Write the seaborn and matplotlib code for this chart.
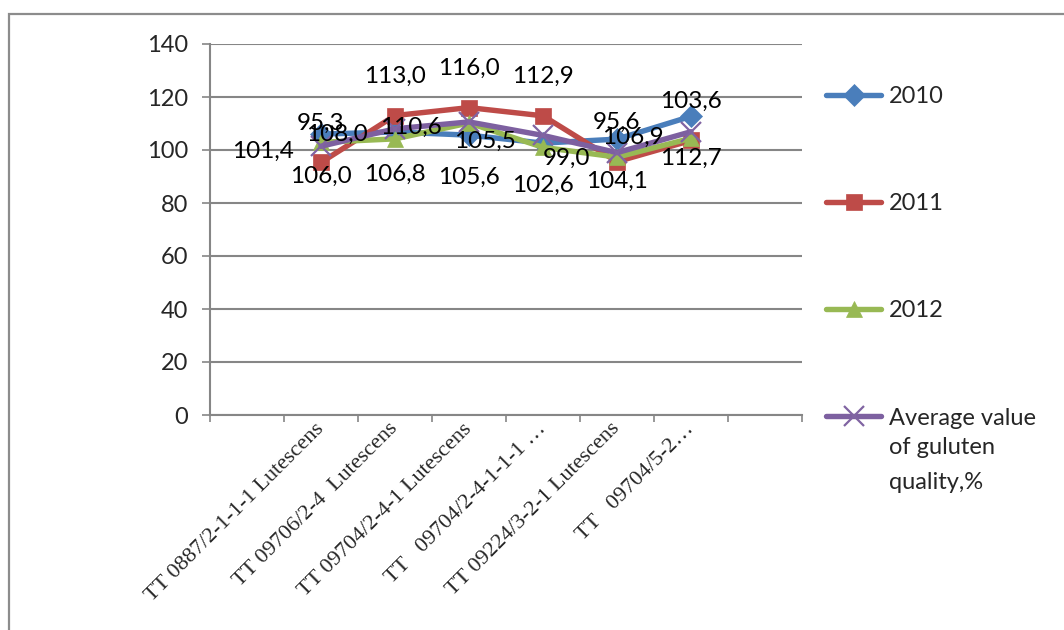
import matplotlib
matplotlib.use("Agg")
import matplotlib.pyplot as plt
from matplotlib.patches import Rectangle
import seaborn as sns

# Breeding lines and gluten-quality values per year (%)
varieties = [
    "TT 0887/2-1-1-1 Lutescens",
    "TT 09706/2-4  Lutescens",
    "TT 09704/2-4-1 Lutescens",
    "TT   09704/2-4-1-1-1 \u2026",
    "TT 09224/3-2-1 Lutescens",
    "TT   09704/5-2\u2026",
]
y2010 = [106.0, 106.8, 105.6, 102.6, 104.1, 112.7]
y2011 = [95.3, 113.0, 116.0, 112.9, 95.6, 103.6]
y2012 = [102.9, 104.2, 110.2, 101.0, 97.3, 104.4]
average = [101.4, 108.0, 110.6, 105.5, 99.0, 106.9]
series_names = ["2010", "2011", "2012", "Average value"]
avg_label_rest = "of guluten\nquality,%"
y_ticks = [0, 20, 40, 60, 80, 100, 120, 140]

sns.set_theme(style="white")
plt.rcParams["font.family"] = ["Lato", "DejaVu Sans"]

DPI = 100
W, H = 1064, 630
fig = plt.figure(figsize=(W / DPI, H / DPI), dpi=DPI)
fig.patch.set_facecolor("white")

# outer chart frame (runs off the right and bottom edges)
fig.patches.append(Rectangle((8.5 / W, -0.1), 1.2, 1 - 13.5 / H + 0.1,
                             transform=fig.transFigure, fill=False,
                             edgecolor="#8c8c8c", linewidth=1.6))

ax = fig.add_axes([210 / W, 1 - 415 / H, (802 - 210) / W, (415 - 44) / H])
ax.set_facecolor("white")

grey = "#868686"
pos = list(range(len(varieties)))

styles = [
    (y2010, "#4A7EBB", "D", 11, None, 0.5),
    (y2011, "#BE4B48", "s", 11, None, 0.5),
    (y2012, "#98B954", "^", 12, None, 0.5),
    (average, "#7D60A0", "x", 14, "#8064A2", 1.6),
]
for (vals, col, mk, ms, mec, mew), name in zip(styles, series_names):
    sns.lineplot(x=pos, y=vals, ax=ax, color=col, linewidth=3.9, marker=mk,
                 markersize=ms, markeredgecolor=mec or col, markeredgewidth=mew,
                 label=name, legend=False)

ax.set_xlim(-1.5, 6.5)
ax.set_ylim(0, 140)
ax.set_yticks(y_ticks)
ax.set_yticklabels([str(t) for t in y_ticks], fontsize=17)
ax.yaxis.grid(True, color=grey, linewidth=1.5)
ax.set_axisbelow(True)
for s in ["top", "right"]:
    ax.spines[s].set_visible(False)
for s in ["left", "bottom"]:
    ax.spines[s].set_color(grey)
    ax.spines[s].set_linewidth(1.5)
ax.tick_params(axis="y", length=5.8, width=1.2, color=grey, pad=10, left=True)

ax.set_xticks(pos)
ax.set_xticklabels(varieties, rotation=45, ha="right", va="center",
                   rotation_mode="anchor", family=["Liberation Serif"], fontsize=16)
ax.tick_params(axis="x", which="major", length=0, pad=8)
ax.set_xticks([x - 0.5 for x in range(-1, len(varieties) + 2)], minor=True)
ax.tick_params(axis="x", which="minor", length=5, width=1.2, color=grey, bottom=True)
ax.set_xlabel("")
ax.set_ylabel("")


def fmt(v):
    return f"{v:.1f}".replace(".", ",")


label_kw = dict(textcoords="offset points", fontsize=17.5, color="black")
for x, v in zip(pos, y2010):
    ax.annotate(fmt(v), (x, v), xytext=(0, -35), ha="center", va="baseline", **label_kw)
for x, v in zip(pos, y2011):
    ax.annotate(fmt(v), (x, v), xytext=(0, 23.5), ha="center", va="baseline", **label_kw)
for x, v in zip(pos, average):
    ax.annotate(fmt(v), (x, v), xytext=(-19.5, -8.6), ha="right", va="baseline", **label_kw)

handles = ax.get_lines()[:4]
leg = fig.legend(handles, series_names, loc="upper left",
                 bbox_to_anchor=(826 / W, 1 - 86 / H), frameon=False,
                 fontsize=17, handlelength=2.35, handletextpad=0.3,
                 labelspacing=3.65, borderpad=0, borderaxespad=0)

fig.canvas.draw()
last = leg.get_texts()[3]
bb = last.get_window_extent()
fig.text(bb.x0 / W, (bb.y0 - 8) / H, avg_label_rest, ha="left", va="top",
         fontsize=17, linespacing=1.85, transform=fig.transFigure)

fig.savefig("out.png", dpi=DPI)
